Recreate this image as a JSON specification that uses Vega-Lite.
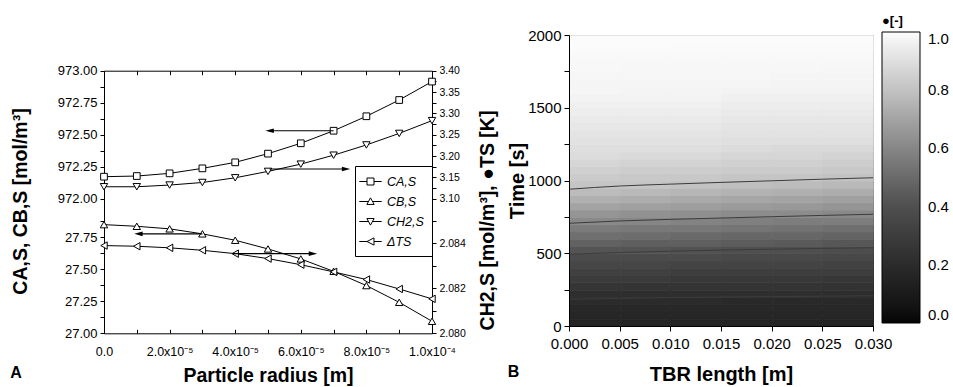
{
  "$schema": "https://vega.github.io/schema/vega-lite/v6.json",
  "padding": {"left": 10, "top": 14, "right": 4, "bottom": 0},
  "background": "white",
  "config": {
    "font": "Liberation Sans",
    "view": {"stroke": "black", "strokeWidth": 1},
    "axis": {"labelFont": "Liberation Sans", "titleFont": "Liberation Sans", "labelColor": "black", "titleColor": "black", "domainColor": "black", "tickColor": "black", "grid": false, "titleFontWeight": "bold", "labelPadding": 3, "labelOverlap": false, "labelBound": false, "labelFlush": false},
    "legend": {"labelFont": "Liberation Sans", "titleFont": "Liberation Sans", "labelColor": "black", "titleColor": "black"}
  },
  "datasets": {
    "series": [
      {"s": "CA", "r": 0, "c": 972.172}, {"s": "CA", "r": 0.00001, "c": 972.177}, {"s": "CA", "r": 0.00002, "c": 972.198}, {"s": "CA", "r": 0.00003, "c": 972.237}, {"s": "CA", "r": 0.00004, "c": 972.284}, {"s": "CA", "r": 0.00005, "c": 972.352}, {"s": "CA", "r": 0.00006, "c": 972.433}, {"s": "CA", "r": 0.00007, "c": 972.531}, {"s": "CA", "r": 0.00008, "c": 972.644}, {"s": "CA", "r": 0.00009, "c": 972.771}, {"s": "CA", "r": 0.0001, "c": 972.915},
      {"s": "CB", "r": 0, "c": 27.849}, {"s": "CB", "r": 0.00001, "c": 27.836}, {"s": "CB", "r": 0.00002, "c": 27.816}, {"s": "CB", "r": 0.00003, "c": 27.777}, {"s": "CB", "r": 0.00004, "c": 27.727}, {"s": "CB", "r": 0.00005, "c": 27.659}, {"s": "CB", "r": 0.00006, "c": 27.581}, {"s": "CB", "r": 0.00007, "c": 27.484}, {"s": "CB", "r": 0.00008, "c": 27.373}, {"s": "CB", "r": 0.00009, "c": 27.242}, {"s": "CB", "r": 0.0001, "c": 27.094},
      {"s": "CH2", "r": 0, "c": 3.128}, {"s": "CH2", "r": 0.00001, "c": 3.128}, {"s": "CH2", "r": 0.00002, "c": 3.132}, {"s": "CH2", "r": 0.00003, "c": 3.138}, {"s": "CH2", "r": 0.00004, "c": 3.149}, {"s": "CH2", "r": 0.00005, "c": 3.164}, {"s": "CH2", "r": 0.00006, "c": 3.181}, {"s": "CH2", "r": 0.00007, "c": 3.202}, {"s": "CH2", "r": 0.00008, "c": 3.226}, {"s": "CH2", "r": 0.00009, "c": 3.253}, {"s": "CH2", "r": 0.0001, "c": 3.283},
      {"s": "dT", "r": 0, "c": 2.0839}, {"s": "dT", "r": 0.00001, "c": 2.08387}, {"s": "dT", "r": 0.00002, "c": 2.0838}, {"s": "dT", "r": 0.00003, "c": 2.08369}, {"s": "dT", "r": 0.00004, "c": 2.08354}, {"s": "dT", "r": 0.00005, "c": 2.08332}, {"s": "dT", "r": 0.00006, "c": 2.08305}, {"s": "dT", "r": 0.00007, "c": 2.08273}, {"s": "dT", "r": 0.00008, "c": 2.08239}, {"s": "dT", "r": 0.00009, "c": 2.08197}, {"s": "dT", "r": 0.0001, "c": 2.08153}
    ],
    "arrows": [
      {"s": "CA", "r": 0.00007, "r2": 0.0000505, "c": 972.531},
      {"s": "CH2", "r": 0.0000505, "r2": 0.0000738, "c": 3.1696},
      {"s": "CB", "r": 0.00003, "r2": 0.0000105, "c": 27.777},
      {"s": "dT", "r": 0.0000393, "r2": 0.0000637, "c": 2.08354}
    ],
    "contours": [
      {"level": 0.2, "x": 0, "t": 183}, {"level": 0.2, "x": 0.005, "t": 190}, {"level": 0.2, "x": 0.01, "t": 195}, {"level": 0.2, "x": 0.015, "t": 199}, {"level": 0.2, "x": 0.02, "t": 202}, {"level": 0.2, "x": 0.025, "t": 205}, {"level": 0.2, "x": 0.03, "t": 208},
      {"level": 0.4, "x": 0, "t": 493}, {"level": 0.4, "x": 0.005, "t": 505}, {"level": 0.4, "x": 0.01, "t": 514}, {"level": 0.4, "x": 0.015, "t": 522}, {"level": 0.4, "x": 0.02, "t": 528}, {"level": 0.4, "x": 0.025, "t": 533}, {"level": 0.4, "x": 0.03, "t": 538},
      {"level": 0.6, "x": 0, "t": 706}, {"level": 0.6, "x": 0.005, "t": 722}, {"level": 0.6, "x": 0.01, "t": 733}, {"level": 0.6, "x": 0.015, "t": 742}, {"level": 0.6, "x": 0.02, "t": 751}, {"level": 0.6, "x": 0.025, "t": 760}, {"level": 0.6, "x": 0.03, "t": 768},
      {"level": 0.8, "x": 0, "t": 940}, {"level": 0.8, "x": 0.005, "t": 962}, {"level": 0.8, "x": 0.01, "t": 975}, {"level": 0.8, "x": 0.015, "t": 987}, {"level": 0.8, "x": 0.02, "t": 998}, {"level": 0.8, "x": 0.025, "t": 1009}, {"level": 0.8, "x": 0.03, "t": 1019}
    ],
    "grid": [
      {"x":0.0025,"t":25,"v":0.16},{"x":0.0025,"t":75,"v":0.17},{"x":0.0025,"t":125,"v":0.18},{"x":0.0025,"t":175,"v":0.2},{"x":0.0025,"t":225,"v":0.22},{"x":0.0025,"t":275,"v":0.26},{"x":0.0025,"t":325,"v":0.29},{"x":0.0025,"t":375,"v":0.32},{"x":0.0025,"t":425,"v":0.35},{"x":0.0025,"t":475,"v":0.38},{"x":0.0025,"t":525,"v":0.42},{"x":0.0025,"t":575,"v":0.47},{"x":0.0025,"t":625,"v":0.52},{"x":0.0025,"t":675,"v":0.56},{"x":0.0025,"t":725,"v":0.61},{"x":0.0025,"t":775,"v":0.65},{"x":0.0025,"t":825,"v":0.7},{"x":0.0025,"t":875,"v":0.74},{"x":0.0025,"t":925,"v":0.78},{"x":0.0025,"t":975,"v":0.81},{"x":0.0025,"t":1025,"v":0.83},{"x":0.0025,"t":1075,"v":0.85},{"x":0.0025,"t":1125,"v":0.87},{"x":0.0025,"t":1175,"v":0.89},{"x":0.0025,"t":1225,"v":0.9},{"x":0.0025,"t":1275,"v":0.91},{"x":0.0025,"t":1325,"v":0.92},{"x":0.0025,"t":1375,"v":0.93},{"x":0.0025,"t":1425,"v":0.94},{"x":0.0025,"t":1475,"v":0.95},{"x":0.0025,"t":1525,"v":0.96},{"x":0.0025,"t":1575,"v":0.971},{"x":0.0025,"t":1625,"v":0.975},{"x":0.0025,"t":1675,"v":0.978},{"x":0.0025,"t":1725,"v":0.981},{"x":0.0025,"t":1775,"v":0.985},{"x":0.0025,"t":1825,"v":0.988},{"x":0.0025,"t":1875,"v":0.991},{"x":0.0025,"t":1925,"v":0.995},{"x":0.0025,"t":1975,"v":0.998},
      {"x":0.0075,"t":25,"v":0.16},{"x":0.0075,"t":75,"v":0.17},{"x":0.0075,"t":125,"v":0.18},{"x":0.0075,"t":175,"v":0.2},{"x":0.0075,"t":225,"v":0.22},{"x":0.0075,"t":275,"v":0.25},{"x":0.0075,"t":325,"v":0.29},{"x":0.0075,"t":375,"v":0.32},{"x":0.0075,"t":425,"v":0.35},{"x":0.0075,"t":475,"v":0.38},{"x":0.0075,"t":525,"v":0.42},{"x":0.0075,"t":575,"v":0.46},{"x":0.0075,"t":625,"v":0.51},{"x":0.0075,"t":675,"v":0.55},{"x":0.0075,"t":725,"v":0.6},{"x":0.0075,"t":775,"v":0.64},{"x":0.0075,"t":825,"v":0.69},{"x":0.0075,"t":875,"v":0.73},{"x":0.0075,"t":925,"v":0.77},{"x":0.0075,"t":975,"v":0.81},{"x":0.0075,"t":1025,"v":0.82},{"x":0.0075,"t":1075,"v":0.84},{"x":0.0075,"t":1125,"v":0.86},{"x":0.0075,"t":1175,"v":0.88},{"x":0.0075,"t":1225,"v":0.9},{"x":0.0075,"t":1275,"v":0.91},{"x":0.0075,"t":1325,"v":0.92},{"x":0.0075,"t":1375,"v":0.93},{"x":0.0075,"t":1425,"v":0.94},{"x":0.0075,"t":1475,"v":0.95},{"x":0.0075,"t":1525,"v":0.96},{"x":0.0075,"t":1575,"v":0.97},{"x":0.0075,"t":1625,"v":0.973},{"x":0.0075,"t":1675,"v":0.977},{"x":0.0075,"t":1725,"v":0.98},{"x":0.0075,"t":1775,"v":0.984},{"x":0.0075,"t":1825,"v":0.988},{"x":0.0075,"t":1875,"v":0.991},{"x":0.0075,"t":1925,"v":0.995},{"x":0.0075,"t":1975,"v":0.998},
      {"x":0.0125,"t":25,"v":0.16},{"x":0.0125,"t":75,"v":0.17},{"x":0.0125,"t":125,"v":0.18},{"x":0.0125,"t":175,"v":0.2},{"x":0.0125,"t":225,"v":0.22},{"x":0.0125,"t":275,"v":0.25},{"x":0.0125,"t":325,"v":0.28},{"x":0.0125,"t":375,"v":0.31},{"x":0.0125,"t":425,"v":0.34},{"x":0.0125,"t":475,"v":0.38},{"x":0.0125,"t":525,"v":0.41},{"x":0.0125,"t":575,"v":0.46},{"x":0.0125,"t":625,"v":0.5},{"x":0.0125,"t":675,"v":0.55},{"x":0.0125,"t":725,"v":0.59},{"x":0.0125,"t":775,"v":0.63},{"x":0.0125,"t":825,"v":0.68},{"x":0.0125,"t":875,"v":0.72},{"x":0.0125,"t":925,"v":0.76},{"x":0.0125,"t":975,"v":0.8},{"x":0.0125,"t":1025,"v":0.82},{"x":0.0125,"t":1075,"v":0.84},{"x":0.0125,"t":1125,"v":0.86},{"x":0.0125,"t":1175,"v":0.88},{"x":0.0125,"t":1225,"v":0.9},{"x":0.0125,"t":1275,"v":0.91},{"x":0.0125,"t":1325,"v":0.92},{"x":0.0125,"t":1375,"v":0.93},{"x":0.0125,"t":1425,"v":0.94},{"x":0.0125,"t":1475,"v":0.95},{"x":0.0125,"t":1525,"v":0.96},{"x":0.0125,"t":1575,"v":0.97},{"x":0.0125,"t":1625,"v":0.972},{"x":0.0125,"t":1675,"v":0.976},{"x":0.0125,"t":1725,"v":0.98},{"x":0.0125,"t":1775,"v":0.983},{"x":0.0125,"t":1825,"v":0.987},{"x":0.0125,"t":1875,"v":0.991},{"x":0.0125,"t":1925,"v":0.994},{"x":0.0125,"t":1975,"v":0.998},
      {"x":0.0175,"t":25,"v":0.16},{"x":0.0175,"t":75,"v":0.17},{"x":0.0175,"t":125,"v":0.18},{"x":0.0175,"t":175,"v":0.19},{"x":0.0175,"t":225,"v":0.22},{"x":0.0175,"t":275,"v":0.25},{"x":0.0175,"t":325,"v":0.28},{"x":0.0175,"t":375,"v":0.31},{"x":0.0175,"t":425,"v":0.34},{"x":0.0175,"t":475,"v":0.37},{"x":0.0175,"t":525,"v":0.4},{"x":0.0175,"t":575,"v":0.45},{"x":0.0175,"t":625,"v":0.49},{"x":0.0175,"t":675,"v":0.54},{"x":0.0175,"t":725,"v":0.58},{"x":0.0175,"t":775,"v":0.62},{"x":0.0175,"t":825,"v":0.67},{"x":0.0175,"t":875,"v":0.71},{"x":0.0175,"t":925,"v":0.75},{"x":0.0175,"t":975,"v":0.79},{"x":0.0175,"t":1025,"v":0.81},{"x":0.0175,"t":1075,"v":0.83},{"x":0.0175,"t":1125,"v":0.85},{"x":0.0175,"t":1175,"v":0.87},{"x":0.0175,"t":1225,"v":0.89},{"x":0.0175,"t":1275,"v":0.9},{"x":0.0175,"t":1325,"v":0.91},{"x":0.0175,"t":1375,"v":0.92},{"x":0.0175,"t":1425,"v":0.93},{"x":0.0175,"t":1475,"v":0.94},{"x":0.0175,"t":1525,"v":0.95},{"x":0.0175,"t":1575,"v":0.96},{"x":0.0175,"t":1625,"v":0.971},{"x":0.0175,"t":1675,"v":0.975},{"x":0.0175,"t":1725,"v":0.979},{"x":0.0175,"t":1775,"v":0.982},{"x":0.0175,"t":1825,"v":0.986},{"x":0.0175,"t":1875,"v":0.99},{"x":0.0175,"t":1925,"v":0.994},{"x":0.0175,"t":1975,"v":0.998},
      {"x":0.0225,"t":25,"v":0.16},{"x":0.0225,"t":75,"v":0.17},{"x":0.0225,"t":125,"v":0.18},{"x":0.0225,"t":175,"v":0.19},{"x":0.0225,"t":225,"v":0.22},{"x":0.0225,"t":275,"v":0.25},{"x":0.0225,"t":325,"v":0.28},{"x":0.0225,"t":375,"v":0.31},{"x":0.0225,"t":425,"v":0.34},{"x":0.0225,"t":475,"v":0.37},{"x":0.0225,"t":525,"v":0.4},{"x":0.0225,"t":575,"v":0.44},{"x":0.0225,"t":625,"v":0.49},{"x":0.0225,"t":675,"v":0.53},{"x":0.0225,"t":725,"v":0.57},{"x":0.0225,"t":775,"v":0.62},{"x":0.0225,"t":825,"v":0.66},{"x":0.0225,"t":875,"v":0.7},{"x":0.0225,"t":925,"v":0.74},{"x":0.0225,"t":975,"v":0.78},{"x":0.0225,"t":1025,"v":0.81},{"x":0.0225,"t":1075,"v":0.83},{"x":0.0225,"t":1125,"v":0.85},{"x":0.0225,"t":1175,"v":0.87},{"x":0.0225,"t":1225,"v":0.88},{"x":0.0225,"t":1275,"v":0.9},{"x":0.0225,"t":1325,"v":0.91},{"x":0.0225,"t":1375,"v":0.92},{"x":0.0225,"t":1425,"v":0.93},{"x":0.0225,"t":1475,"v":0.94},{"x":0.0225,"t":1525,"v":0.95},{"x":0.0225,"t":1575,"v":0.96},{"x":0.0225,"t":1625,"v":0.97},{"x":0.0225,"t":1675,"v":0.974},{"x":0.0225,"t":1725,"v":0.978},{"x":0.0225,"t":1775,"v":0.982},{"x":0.0225,"t":1825,"v":0.986},{"x":0.0225,"t":1875,"v":0.99},{"x":0.0225,"t":1925,"v":0.994},{"x":0.0225,"t":1975,"v":0.998},
      {"x":0.0275,"t":25,"v":0.16},{"x":0.0275,"t":75,"v":0.17},{"x":0.0275,"t":125,"v":0.18},{"x":0.0275,"t":175,"v":0.19},{"x":0.0275,"t":225,"v":0.21},{"x":0.0275,"t":275,"v":0.24},{"x":0.0275,"t":325,"v":0.27},{"x":0.0275,"t":375,"v":0.3},{"x":0.0275,"t":425,"v":0.33},{"x":0.0275,"t":475,"v":0.36},{"x":0.0275,"t":525,"v":0.39},{"x":0.0275,"t":575,"v":0.43},{"x":0.0275,"t":625,"v":0.48},{"x":0.0275,"t":675,"v":0.52},{"x":0.0275,"t":725,"v":0.57},{"x":0.0275,"t":775,"v":0.61},{"x":0.0275,"t":825,"v":0.65},{"x":0.0275,"t":875,"v":0.69},{"x":0.0275,"t":925,"v":0.73},{"x":0.0275,"t":975,"v":0.77},{"x":0.0275,"t":1025,"v":0.8},{"x":0.0275,"t":1075,"v":0.82},{"x":0.0275,"t":1125,"v":0.84},{"x":0.0275,"t":1175,"v":0.86},{"x":0.0275,"t":1225,"v":0.88},{"x":0.0275,"t":1275,"v":0.9},{"x":0.0275,"t":1325,"v":0.91},{"x":0.0275,"t":1375,"v":0.92},{"x":0.0275,"t":1425,"v":0.93},{"x":0.0275,"t":1475,"v":0.94},{"x":0.0275,"t":1525,"v":0.95},{"x":0.0275,"t":1575,"v":0.96},{"x":0.0275,"t":1625,"v":0.97},{"x":0.0275,"t":1675,"v":0.972},{"x":0.0275,"t":1725,"v":0.976},{"x":0.0275,"t":1775,"v":0.981},{"x":0.0275,"t":1825,"v":0.985},{"x":0.0275,"t":1875,"v":0.989},{"x":0.0275,"t":1925,"v":0.994},{"x":0.0275,"t":1975,"v":0.998}
    ]
  },
  "concat": [
    {
      "width": 328,
      "height": 298.3,
      "view": {"stroke": null},
      "title": {"text": "A", "orient": "bottom", "anchor": "start", "offset": -20, "fontSize": 16, "fontWeight": "bold", "color": "black"},
      "layer": [
        {
          "data": {"name": "series"},
          "transform": [{"filter": "datum.s == 'CA' || datum.s == 'CB'"}],
          "encoding": {
            "x": {"field": "r", "type": "quantitative", "scale": {"domain": [0, 0.0001], "nice": false},
              "axis": {"orient": "bottom", "values": [0, 0.00001, 0.00002, 0.00003, 0.00004, 0.00005, 0.00006, 0.00007, 0.00008, 0.00009, 0.0001],
                "labelExpr": "round(datum.value*1e5) == 0 ? '0.0' : round(datum.value*1e5) == 10 ? '1.0x10⁻⁴' : round(datum.value*1e5) % 2 == 0 ? round(datum.value*1e5) + '.0x10⁻⁵' : ''",
                "labelFontSize": 12.5, "tickSize": -4, "labelPadding": 16, "title": "Particle radius [m]", "titleFontSize": 19.5, "titlePadding": 9}},
            "y": {"field": "c", "type": "quantitative", "scale": {"domain": [27, 28, 972, 973], "range": [298.3, 170.3, 163.7, 35.7], "nice": false, "zero": false},
              "axis": {"orient": "left", "values": [27, 27.125, 27.25, 27.375, 27.5, 27.625, 27.75, 27.875, 972, 972.125, 972.25, 972.375, 972.5, 972.625, 972.75, 972.875, 973],
                "labelExpr": "(datum.value*4) % 1 == 0 ? format(datum.value, '.2f') : ''",
                "labelFontSize": 13, "tickSize": 4, "title": "CA,S, CB,S [mol/m³]", "titleFontSize": 19.5, "titlePadding": 27, "titleY": 166}}
          },
          "layer": [
            {"mark": {"type": "line", "color": "black", "strokeWidth": 1}, "encoding": {"detail": {"field": "s"}}},
            {"transform": [{"filter": "datum.s == 'CA'"}], "mark": {"type": "point", "shape": "square", "size": 45, "fill": "white", "stroke": "black", "strokeWidth": 1, "opacity": 1}},
            {"transform": [{"filter": "datum.s == 'CB'"}], "mark": {"type": "point", "shape": "triangle-up", "size": 55, "fill": "white", "stroke": "black", "strokeWidth": 1, "opacity": 1}},
            {"data": {"name": "arrows"}, "transform": [{"filter": "datum.s == 'CA' || datum.s == 'CB'"}], "mark": {"type": "rule", "color": "black", "strokeWidth": 1.2}, "encoding": {"x2": {"field": "r2"}}},
            {"data": {"name": "arrows"}, "transform": [{"filter": "datum.s == 'CA' || datum.s == 'CB'"}], "mark": {"type": "point", "shape": "M-1,0L1,-0.55L1,0.55Z", "size": 70, "filled": true, "color": "black", "opacity": 1}, "encoding": {"x": {"field": "r2", "type": "quantitative"}}},
            {"data": {"values": [{"s": "CA"}]}, "mark": {"type": "text", "text": "//", "fontSize": 13, "color": "black"}, "encoding": {"x": {"datum": 0, "type": "quantitative"}, "y": {"datum": 500, "type": "quantitative"}}}
          ]
        },
        {
          "data": {"name": "series"},
          "transform": [{"filter": "datum.s == 'CH2' || datum.s == 'dT'"}],
          "encoding": {
            "x": {"field": "r", "type": "quantitative", "scale": {"domain": [0, 0.0001], "nice": false},
              "axis": {"orient": "top", "offset": -35.7, "labels": false, "values": [0, 0.00001, 0.00002, 0.00003, 0.00004, 0.00005, 0.00006, 0.00007, 0.00008, 0.00009, 0.0001], "tickSize": -4, "title": null}},
            "y": {"field": "c", "type": "quantitative", "scale": {"domain": [2.08, 2.08569, 3.1, 3.4], "range": [298.3, 170.3, 163.7, 35.7], "nice": false, "zero": false},
              "axis": {"orient": "right", "values": [2.08, 2.081, 2.082, 2.083, 2.084, 2.085, 3.1, 3.125, 3.15, 3.175, 3.2, 3.225, 3.25, 3.275, 3.3, 3.325, 3.35, 3.375, 3.4],
                "labelExpr": "datum.value < 3 ? (round(datum.value*1000) % 2 == 0 ? format(datum.value, '.3f') : '') : (round(datum.value*1000) % 50 == 0 ? format(datum.value, '.2f') : '')",
                "labelFontSize": 10.5, "tickSize": 4, "title": "CH2,S [mol/m³], ●TS [K]", "titleAngle": -90, "titleBaseline": "top", "titleFontSize": 19.5, "titlePadding": 13, "titleY": 185}}
          },
          "layer": [
            {"mark": {"type": "line", "color": "black", "strokeWidth": 1}, "encoding": {"detail": {"field": "s"}}},
            {"transform": [{"filter": "datum.s == 'CH2'"}], "mark": {"type": "point", "shape": "triangle-down", "size": 55, "fill": "white", "stroke": "black", "strokeWidth": 1, "opacity": 1}},
            {"transform": [{"filter": "datum.s == 'dT'"}], "mark": {"type": "point", "shape": "triangle-left", "size": 55, "fill": "white", "stroke": "black", "strokeWidth": 1, "opacity": 1}},
            {"data": {"name": "arrows"}, "transform": [{"filter": "datum.s == 'CH2' || datum.s == 'dT'"}], "mark": {"type": "rule", "color": "black", "strokeWidth": 1.2}, "encoding": {"x2": {"field": "r2"}}},
            {"data": {"name": "arrows"}, "transform": [{"filter": "datum.s == 'CH2' || datum.s == 'dT'"}], "mark": {"type": "point", "shape": "M1,0L-1,-0.55L-1,0.55Z", "size": 70, "filled": true, "color": "black", "opacity": 1}, "encoding": {"x": {"field": "r2", "type": "quantitative"}}},
            {"data": {"values": [{"s": "CH2"}]}, "mark": {"type": "text", "text": "//", "fontSize": 13, "color": "black"}, "encoding": {"x": {"datum": 0.0001, "type": "quantitative"}, "y": {"datum": 3.0, "type": "quantitative"}}}
          ]
        },
        {
          "data": {"name": "series"},
          "transform": [{"filter": "datum.r == 0"}],
          "mark": {"type": "point", "opacity": 0},
          "encoding": {
            "shape": {"field": "s", "type": "nominal",
              "scale": {"domain": ["CA", "CB", "CH2", "dT"], "range": ["M-1.6,0H-0.5M0.5,0H1.6M-0.5,-0.5H0.5V0.5H-0.5Z", "M-1.6,0H-0.3M0.3,0H1.6M-0.52,0.42L0,-0.52L0.52,0.42Z", "M-1.6,0H-0.3M0.3,0H1.6M-0.52,-0.42L0.52,-0.42L0,0.52Z", "M-1.6,0H-0.5M0.5,0H1.6M0.5,-0.52L0.5,0.52L-0.5,0Z"]},
              "legend": {"orient": "none", "legendX": 251, "legendY": 131, "title": null, "strokeColor": "black", "padding": 8, "symbolSize": 196, "symbolStrokeColor": "black", "symbolFillColor": "white", "symbolStrokeWidth": 1, "symbolOpacity": 1, "labelFontSize": 12.5, "labelFontStyle": "italic", "labelOffset": 9, "rowPadding": 6,
                "labelExpr": "datum.value == 'CA' ? 'CA,S' : datum.value == 'CB' ? 'CB,S' : datum.value == 'CH2' ? 'CH2,S' : 'ΔTS'"}}
          }
        }
      ],
      "resolve": {"scale": {"y": "independent"}, "axis": {"x": "independent", "y": "independent"}}
    },
    {
      "width": 304,
      "height": 291,
      "title": {"text": "B", "orient": "bottom", "anchor": "start", "offset": -20, "fontSize": 16, "fontWeight": "bold", "color": "black"},
      "layer": [
        {
          "data": {"name": "grid"},
          "mark": {"type": "rect", "strokeWidth": 0.8},
          "encoding": {
            "x": {"field": "x", "type": "quantitative", "bin": {"step": 0.005, "extent": [0, 0.03]}, "scale": {"domain": [0, 0.03], "nice": false},
              "axis": {"values": [0, 0.0025, 0.005, 0.0075, 0.01, 0.0125, 0.015, 0.0175, 0.02, 0.0225, 0.025, 0.0275, 0.03], "labelExpr": "round(datum.value*10000) % 50 == 0 ? format(datum.value, '.3f') : ''", "labelFontSize": 15, "tickSize": 5, "labelPadding": 5, "title": "TBR length [m]", "titleFontSize": 20, "titlePadding": 13}},
            "y": {"field": "t", "type": "quantitative", "bin": {"step": 50, "extent": [0, 2000]}, "scale": {"domain": [0, 2000], "nice": false},
              "axis": {"values": [0, 250, 500, 750, 1000, 1250, 1500, 1750, 2000], "labelExpr": "datum.value % 500 == 0 ? format(datum.value, 'd') : ''", "labelFontSize": 15, "tickSize": 5, "title": "Time [s]", "titleFontSize": 20, "titlePadding": 0}},
            "color": {"field": "v", "aggregate": "mean", "type": "quantitative",
              "scale": {"domain": [0, 0.2, 0.4, 0.6, 0.8, 1], "range": ["#050505", "#2b2b2b", "#4f4f4f", "#868686", "#c2c2c2", "#fcfcfc"]},
              "legend": {"orient": "none", "legendX": 313, "legendY": -20, "direction": "vertical", "gradientLength": 291, "gradientThickness": 38, "gradientStrokeColor": "black", "gradientStrokeWidth": 1, "values": [0, 0.2, 0.4, 0.6, 0.8, 1], "format": ".1f", "labelFontSize": 15, "labelOffset": 8, "title": "●[-]", "titleFontSize": 13, "titleFontWeight": "bold", "titlePadding": 4}},
            "stroke": {"field": "v", "aggregate": "mean", "type": "quantitative",
              "scale": {"domain": [0, 0.2, 0.4, 0.6, 0.8, 1], "range": ["#050505", "#2b2b2b", "#4f4f4f", "#868686", "#c2c2c2", "#fcfcfc"]}, "legend": null}
          }
        },
        {
          "data": {"name": "contours"},
          "mark": {"type": "line", "color": "#3c3c3c", "strokeWidth": 1, "interpolate": "monotone"},
          "encoding": {
            "x": {"field": "x", "type": "quantitative"},
            "y": {"field": "t", "type": "quantitative"},
            "detail": {"field": "level"}
          }
        }
      ]
    }
  ],
  "columns": 2,
  "spacing": 10,
  "resolve": {"legend": {"shape": "independent", "color": "independent"}}
}
